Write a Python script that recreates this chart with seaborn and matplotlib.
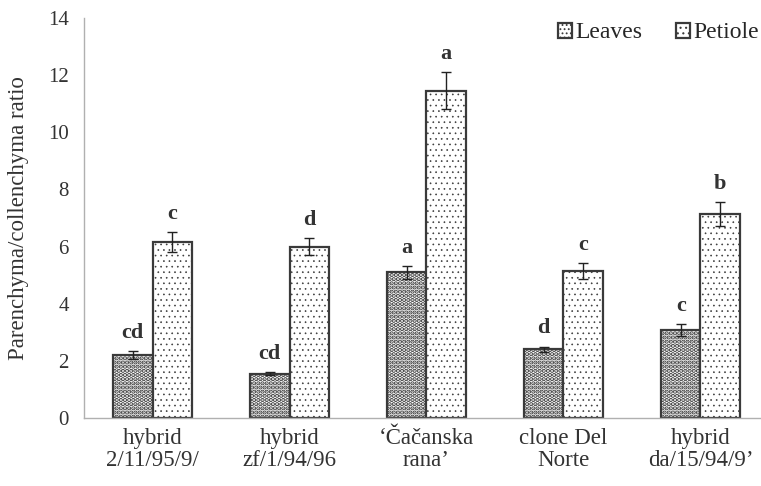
"""
Parenchyma/collenchyma ratio in leaves and petioles of five genotypes.
Grouped bar chart with hatched fills, SE bars and significance letters.
"""

import matplotlib
matplotlib.use("Agg")
import matplotlib.pyplot as plt
import seaborn as sns
import pandas as pd

# ─── Data ────────────────────────────────────────────────────────────────────

cultivars = [
    "hybrid\n2/11/95/9/",
    "hybrid\nzf/1/94/96",
    "\u2018\u010ca\u010danska\nrana\u2019",
    "clone Del\nNorte",
    "hybrid\nda/15/94/9\u2019",
]
tissues = ["Leaves", "Petiole"]

leaves_mean = [2.2, 1.55, 5.1, 2.4, 3.08]
leaves_err = [0.15, 0.05, 0.22, 0.1, 0.2]
leaves_letters = ["cd", "cd", "a", "d", "c"]

petiole_mean = [6.15, 6.0, 11.45, 5.15, 7.14]
petiole_err = [0.35, 0.3, 0.65, 0.28, 0.42]
petiole_letters = ["c", "d", "a", "c", "b"]

y_ticks = [0, 2, 4, 6, 8, 10, 12, 14]

TEXT = "#333333"
GRID = "#b0b0b0"


def main():
    df = pd.DataFrame({
        "cultivar": cultivars * 2,
        "tissue": ["Leaves"] * len(cultivars) + ["Petiole"] * len(cultivars),
        "ratio": leaves_mean + petiole_mean,
    })
    errs = {"Leaves": leaves_err, "Petiole": petiole_err}
    letters = {"Leaves": leaves_letters, "Petiole": petiole_letters}

    sns.set_style("white")
    plt.rcParams["font.family"] = ["Liberation Serif", "DejaVu Serif"]
    plt.rcParams["hatch.linewidth"] = 0.8

    fig = plt.figure(figsize=(7.61, 4.86), dpi=100)
    ax = fig.add_axes([84 / 761, 1 - 418 / 486, 685 / 761, 400 / 486])

    sns.barplot(
        data=df, x="cultivar", y="ratio", hue="tissue",
        hue_order=tissues, order=cultivars,
        palette=["white", "white"], width=0.577, errorbar=None,
        edgecolor="#3a3a3a", linewidth=1.6, legend=False, ax=ax,
    )

    hatches = {"Leaves": "....", "Petiole": "..."}
    hatch_lw = {"Leaves": 2.2, "Petiole": 0.45}
    for tissue, cont in zip(tissues, ax.containers):
        for i, bar in enumerate(cont):
            bar.set_hatch(hatches[tissue])
            if hasattr(bar, "set_hatch_linewidth"):
                bar.set_hatch_linewidth(hatch_lw[tissue])
            cx = bar.get_x() + bar.get_width() / 2
            top = bar.get_height()
            e = errs[tissue][i]
            ax.errorbar(cx, top, yerr=e, fmt="none", ecolor="#222222",
                        elinewidth=1.0, capsize=3.6, capthick=1.0, zorder=5)
            ax.annotate(letters[tissue][i], (cx, top + e), xytext=(0, 9.5),
                        textcoords="offset points", ha="center", va="baseline",
                        fontsize=16, fontweight="bold", color=TEXT)

    # legend
    handles = [ax.containers[0][0], ax.containers[1][0]]
    fig.legend(handles, tissues, loc="center left",
               bbox_to_anchor=(558 / 761, 1 - 33 / 486), ncol=2, frameon=False,
               fontsize=17, handlelength=0.6, handleheight=0.6,
               handletextpad=0.15, columnspacing=1.4, borderpad=0,
               borderaxespad=0)

    # axes styling
    ax.set_xlim(-0.5, 4.5)
    ax.set_ylim(0, 14)
    ax.set_yticks(y_ticks)
    ax.set_yticklabels([str(t) for t in y_ticks], fontsize=15, color=TEXT)
    ax.set_ylabel("Parenchyma/collenchyma ratio", fontsize=16.5, color=TEXT)
    ax.yaxis.set_label_coords(-(84 - 29) / 685, 0.5)
    ax.set_xlabel("")
    ax.set_xticks(range(len(cultivars)))
    ax.set_xticklabels(cultivars, fontsize=16.5, color=TEXT, linespacing=1.1)
    ax.set_xticks([i - 0.5 for i in range(len(cultivars) + 1)], minor=True)
    ax.tick_params(axis="x", which="major", length=0, pad=7)
    ax.tick_params(axis="x", which="minor", length=7, width=1, color=GRID,
                   direction="out")
    ax.tick_params(axis="y", length=6, width=1, color=GRID,
                   direction="out", pad=5)

    for side in ["top", "right"]:
        ax.spines[side].set_visible(False)
    for side in ["left", "bottom"]:
        ax.spines[side].set_color(GRID)
        ax.spines[side].set_linewidth(1.0)

    fig.savefig("out.png", dpi=100)
    plt.close(fig)


if __name__ == "__main__":
    main()
